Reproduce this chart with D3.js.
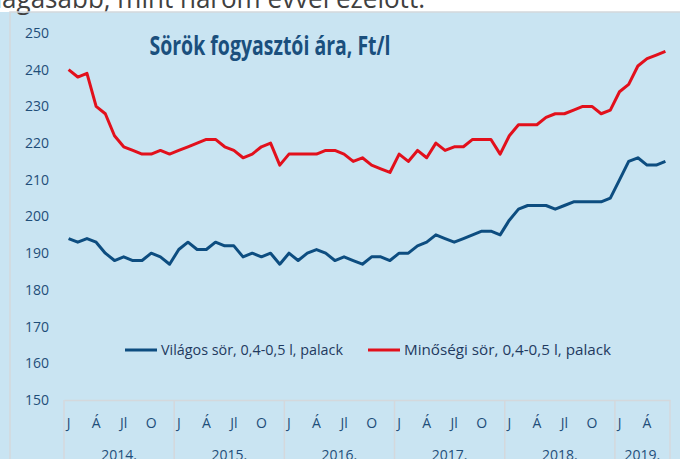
<!DOCTYPE html>
<html>
<head>
<meta charset="utf-8">
<script src="https://cdn.jsdelivr.net/npm/d3@7"></script>
<style>
  body { margin: 0; background: #c9e4f2; }
  svg { display: block; font-family: "Open Sans", sans-serif; }
</style>
</head>
<body>
<div id="chart"></div>
<script>
// Data
var years = ["2014.", "2015.", "2016.", "2017.", "2018.", "2019."];
var monthsPerYear = [12, 12, 12, 12, 12, 6];
var monthLabels = ["J", "", "", "Á", "", "", "Jl", "", "", "O", "", ""];
var yTicks = [150, 160, 170, 180, 190, 200, 210, 220, 230, 240, 250];

var vilagos = [194, 193, 194, 193, 190, 188, 189, 188, 188, 190, 189, 187,
  191, 193, 191, 191, 193, 192, 192, 189, 190, 189, 190, 187,
  190, 188, 190, 191, 190, 188, 189, 188, 187, 189, 189, 188,
  190, 190, 192, 193, 195, 194, 193, 194, 195, 196, 196, 195,
  199, 202, 203, 203, 203, 202, 203, 204, 204, 204, 204, 205,
  210, 215, 216, 214, 214, 215];
var minosegi = [240, 238, 239, 230, 228, 222, 219, 218, 217, 217, 218, 217,
  218, 219, 220, 221, 221, 219, 218, 216, 217, 219, 220, 214,
  217, 217, 217, 217, 218, 218, 217, 215, 216, 214, 213, 212,
  217, 215, 218, 216, 220, 218, 219, 219, 221, 221, 221, 217,
  222, 225, 225, 225, 227, 228, 228, 229, 230, 230, 228, 229,
  234, 236, 241, 243, 244, 245];

var seriesNames = ["Világos sör, 0,4-0,5 l, palack", "Minőségi sör, 0,4-0,5 l, palack"];
var seriesColors = ["#0d4d80", "#e2101c"];

// Build month categories
var months = [];
years.forEach(function(y, yi) {
  for (var m = 0; m < monthsPerYear[yi]; m++) {
    months.push({ key: y + m, year: y, m: m });
  }
});

var svgWidth = 680, svgHeight = 459;
var svg = d3.select("#chart").append("svg")
  .attr("width", svgWidth)
  .attr("height", svgHeight);

// white strip with cut off text above
svg.append("rect").attr("x", 0).attr("y", 0).attr("width", svgWidth).attr("height", 12).attr("fill", "#ffffff");
svg.append("text")
  .attr("x", -22).attr("y", 8)
  .attr("textLength", 447)
  .attr("lengthAdjust", "spacingAndGlyphs")
  .attr("font-size", 28)
  .attr("fill", "#404040")
  .text("magasabb, mint három évvel ezelőtt.");

// chart frame
svg.append("path")
  .attr("d", "M10,459V12H680")
  .attr("fill", "none")
  .attr("stroke", "#d4d8dc")
  .attr("stroke-width", 1.5);

// Scales
var x = d3.scaleBand()
  .domain(months.map(d => d.key))
  .range([64, 670])
  .padding(0);

var y = d3.scaleLinear()
  .domain([150, 250])
  .range([400, 33]);

// Y axis labels
var yAxis = d3.axisLeft(y).tickValues(yTicks).tickSize(0).tickPadding(0);
var yg = svg.append("g").attr("transform", "translate(49,0)").call(yAxis);
yg.select(".domain").remove();
yg.selectAll("text")
  .attr("font-family", "Open Sans, sans-serif")
  .attr("font-size", 14)
  .attr("fill", "#1f4e79");

// X axis (month labels)
var xAxis = d3.axisBottom(x)
  .tickSize(0)
  .tickSizeOuter(0)
  .tickPadding(0)
  .tickFormat(function(k, i) { return monthLabels[months[i].m]; });
var xg = svg.append("g").attr("transform", "translate(0,400)").call(xAxis);
xg.select(".domain").attr("stroke", "#d4d8dc").attr("stroke-width", 1.5);
xg.selectAll("text")
  .attr("y", 28)
  .attr("dy", null)
  .attr("font-family", "Open Sans, sans-serif")
  .attr("font-size", 14)
  .attr("fill", "#1f4e79");

// Year separators and labels
var yearStarts = years.map(function(yr) { return months.find(d => d.year === yr); });
svg.selectAll(".ysep")
  .data(yearStarts)
  .enter().append("line")
  .attr("class", "ysep")
  .attr("x1", d => x(d.key)).attr("x2", d => x(d.key))
  .attr("y1", 400).attr("y2", 459)
  .attr("stroke", "#d4d8dc").attr("stroke-width", 1.5);
svg.append("line")
  .attr("x1", x.range()[1]).attr("x2", x.range()[1])
  .attr("y1", 400).attr("y2", 459)
  .attr("stroke", "#d4d8dc").attr("stroke-width", 1.5);

svg.selectAll(".ylab")
  .data(years)
  .enter().append("text")
  .attr("class", "ylab")
  .attr("x", function(yr) {
    var ms = months.filter(d => d.year === yr);
    return (x(ms[0].key) + x(ms[ms.length - 1].key) + x.bandwidth()) / 2;
  })
  .attr("y", 460)
  .attr("text-anchor", "middle")
  .attr("font-size", 14)
  .attr("fill", "#1f4e79")
  .text(d => d);

// Lines
var line = d3.line()
  .x((d, i) => x(months[i].key) + x.bandwidth() / 2)
  .y(d => y(d));

[vilagos, minosegi].forEach(function(s, i) {
  svg.append("path")
    .datum(s)
    .attr("fill", "none")
    .attr("stroke", seriesColors[i])
    .attr("stroke-width", 3)
    .attr("stroke-linejoin", "round")
    .attr("d", line);
});

// Title
svg.append("text")
  .attr("x", 270).attr("y", 55)
  .attr("text-anchor", "middle")
  .attr("font-size", 27)
  .attr("font-weight", "bold")
  .attr("textLength", 241)
  .attr("lengthAdjust", "spacingAndGlyphs")
  .attr("fill", "#1a4f7d")
  .text("Sörök fogyasztói ára, Ft/l");

// Legend
var legendX = [125, 368];
var legendLen = [182, 207];
var legend = svg.selectAll(".legend")
  .data(seriesNames)
  .enter().append("g")
  .attr("class", "legend")
  .attr("transform", (d, i) => `translate(${legendX[i]},350)`);
legend.append("line")
  .attr("x1", 0).attr("x2", 32)
  .attr("stroke", (d, i) => seriesColors[i])
  .attr("stroke-width", 3);
legend.append("text")
  .attr("x", 36).attr("y", 5)
  .attr("font-size", 14.5)
  .attr("textLength", (d, i) => legendLen[i])
  .attr("lengthAdjust", "spacingAndGlyphs")
  .attr("fill", "#1f3a5f")
  .text(d => d);
</script>
</body>
</html>
